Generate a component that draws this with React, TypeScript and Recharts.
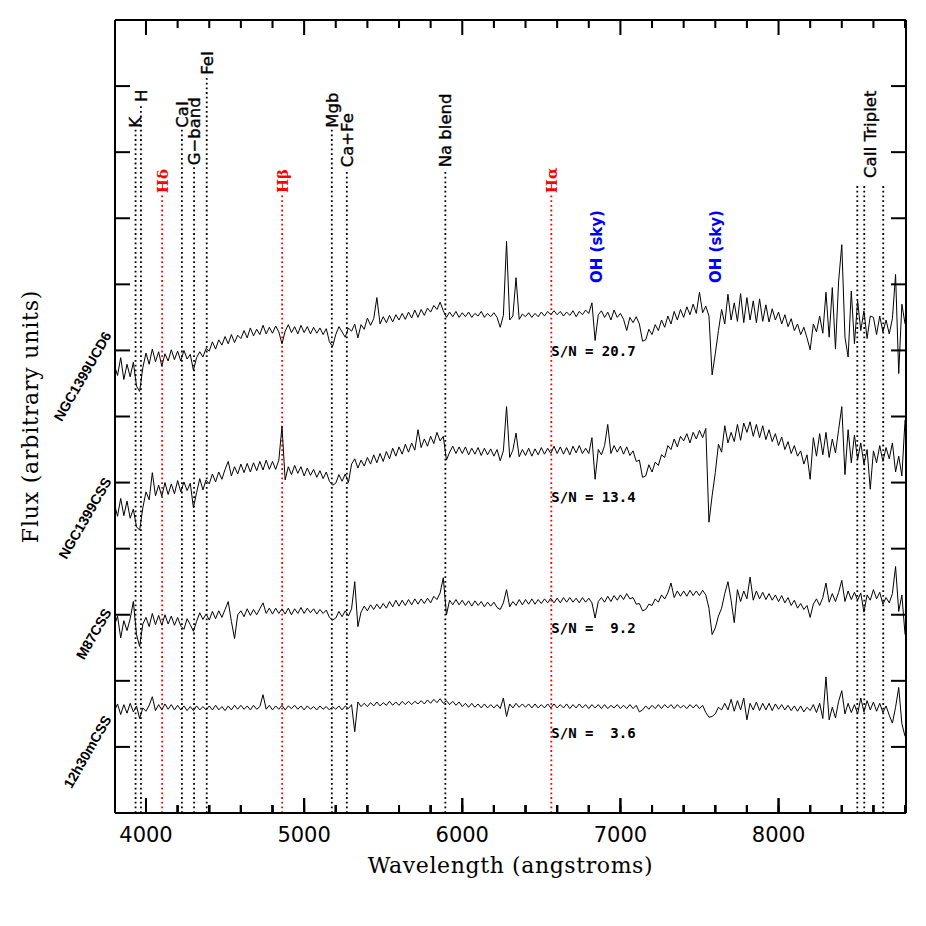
import { LineChart, Line, XAxis, YAxis, ReferenceLine, ReferenceDot, ReferenceArea } from "recharts";

// wavelength grid (angstroms), 20 A steps
const WAVE = [
  3800, 3820, 3840, 3860, 3880, 3900, 3920, 3940, 3960, 3980,
  4000, 4020, 4040, 4060, 4080, 4100, 4120, 4140, 4160, 4180,
  4200, 4220, 4240, 4260, 4280, 4300, 4320, 4340, 4360, 4380,
  4400, 4420, 4440, 4460, 4480, 4500, 4520, 4540, 4560, 4580,
  4600, 4620, 4640, 4660, 4680, 4700, 4720, 4740, 4760, 4780,
  4800, 4820, 4840, 4860, 4880, 4900, 4920, 4940, 4960, 4980,
  5000, 5020, 5040, 5060, 5080, 5100, 5120, 5140, 5160, 5180,
  5200, 5220, 5240, 5260, 5280, 5300, 5320, 5340, 5360, 5380,
  5400, 5420, 5440, 5460, 5480, 5500, 5520, 5540, 5560, 5580,
  5600, 5620, 5640, 5660, 5680, 5700, 5720, 5740, 5760, 5780,
  5800, 5820, 5840, 5860, 5880, 5900, 5920, 5940, 5960, 5980,
  6000, 6020, 6040, 6060, 6080, 6100, 6120, 6140, 6160, 6180,
  6200, 6220, 6240, 6260, 6280, 6300, 6320, 6340, 6360, 6380,
  6400, 6420, 6440, 6460, 6480, 6500, 6520, 6540, 6560, 6580,
  6600, 6620, 6640, 6660, 6680, 6700, 6720, 6740, 6760, 6780,
  6800, 6820, 6840, 6860, 6880, 6900, 6920, 6940, 6960, 6980,
  7000, 7020, 7040, 7060, 7080, 7100, 7120, 7140, 7160, 7180,
  7200, 7220, 7240, 7260, 7280, 7300, 7320, 7340, 7360, 7380,
  7400, 7420, 7440, 7460, 7480, 7500, 7520, 7540, 7560, 7580,
  7600, 7620, 7640, 7660, 7680, 7700, 7720, 7740, 7760, 7780,
  7800, 7820, 7840, 7860, 7880, 7900, 7920, 7940, 7960, 7980,
  8000, 8020, 8040, 8060, 8080, 8100, 8120, 8140, 8160, 8180,
  8200, 8220, 8240, 8260, 8280, 8300, 8320, 8340, 8360, 8380,
  8400, 8420, 8440, 8460, 8480, 8500, 8520, 8540, 8560, 8580,
  8600, 8620, 8640, 8660, 8680, 8700, 8720, 8740, 8760, 8780,
  8800,
];

// offset fluxes, arbitrary units
const UCD6 = [
  67.8, 66.2, 68.9, 65.6, 67.9, 66.0, 68.2, 64.6, 63.8, 67.4,
  69.6, 67.9, 70.2, 68.3, 69.8, 67.6, 69.5, 68.4, 70.1, 68.6,
  69.9, 68.4, 70.0, 68.7, 69.4, 67.0, 68.9, 69.8, 69.0, 70.3,
  69.9, 71.3, 70.2, 71.6, 70.8, 72.1, 71.0, 72.4, 71.2, 72.3,
  71.8, 73.0, 71.9, 73.4, 72.2, 73.2, 72.4, 73.8, 72.5, 73.5,
  72.6, 73.7, 72.8, 71.0, 72.9, 73.9, 72.7, 73.6, 72.5, 73.8,
  72.7, 73.6, 72.5, 73.5, 72.6, 73.4, 72.4, 73.3, 71.3, 70.6,
  72.4, 73.6, 72.8, 72.0, 73.4, 72.9, 74.0, 71.9, 73.9, 73.2,
  74.9, 73.8, 74.8, 78.0, 74.0, 75.1, 74.2, 75.3, 74.3, 75.4,
  74.6, 75.6, 74.7, 75.8, 74.9, 76.1, 75.0, 76.2, 75.3, 76.4,
  75.8, 76.8, 76.2, 77.3, 76.0, 75.0, 75.8, 75.1, 75.9, 75.0,
  75.7, 75.1, 75.8, 75.0, 75.6, 75.2, 75.9, 75.0, 75.6, 75.1,
  75.7, 75.0, 73.5, 75.3, 86.5, 74.6, 75.2, 81.0, 74.7, 75.5,
  75.1, 75.7, 75.0, 75.6, 75.1, 75.8, 75.2, 75.9, 75.4, 76.0,
  75.4, 75.9, 75.2, 75.8, 75.3, 76.0, 75.1, 75.9, 75.4, 76.1,
  75.6, 77.2, 71.5, 75.4, 76.0, 75.0, 75.8, 74.6, 76.1, 75.0,
  75.6, 74.7, 73.0, 75.0, 74.2, 75.1, 74.0, 71.4, 71.6, 73.2,
  72.4, 73.9, 73.0, 74.6, 73.5, 75.2, 74.0, 75.9, 74.6, 76.2,
  75.0, 76.6, 75.4, 77.0, 75.6, 78.8, 75.7, 76.7, 75.2, 66.3,
  69.5, 73.0, 76.2, 74.0, 78.5, 74.6, 77.2, 74.4, 78.6, 74.2,
  78.0, 74.6, 77.5, 74.2, 77.8, 74.4, 76.9, 74.3, 76.3, 74.6,
  75.8, 74.0, 75.4, 73.6, 74.8, 73.0, 74.0, 72.4, 73.5, 71.9,
  70.1, 74.0, 72.8, 75.2, 72.6, 78.8, 72.0, 79.5, 70.2, 80.5,
  86.0, 72.0, 69.0, 79.0, 71.0, 77.5, 73.0, 76.0, 71.8, 75.2,
  75.0, 72.4, 75.2, 72.8, 74.6, 72.5, 74.8, 81.5, 66.5, 77.0,
  74.0,
];

const NGC1399CSS = [
  46.8, 44.9, 47.6, 45.0, 47.2, 44.6, 46.0, 43.3, 42.8, 46.2,
  48.6, 47.4, 51.5, 48.0, 49.6, 47.9, 50.0, 48.2, 49.8, 48.3,
  50.3, 48.6, 50.1, 48.8, 49.9, 46.2, 48.5, 50.6, 48.9, 50.4,
  49.8, 51.3, 50.1, 51.6, 50.5, 52.0, 53.2, 51.0, 52.4, 51.3,
  52.8, 51.5, 52.9, 51.6, 53.0, 51.8, 53.2, 51.9, 53.4, 52.0,
  53.2, 52.0, 53.4, 58.5, 50.4, 52.4, 51.2, 52.6, 51.4, 52.4,
  51.0, 52.2, 51.1, 52.0, 50.8, 51.8, 50.6, 51.6, 50.2, 49.6,
  49.9, 51.2, 50.2, 51.3, 50.0, 52.8, 53.6, 52.2, 53.4, 52.5,
  53.8, 52.8, 54.2, 53.0, 54.4, 53.2, 54.7, 53.6, 55.2, 54.0,
  55.4, 54.3, 55.8, 54.6, 56.0, 54.9, 58.0, 55.3, 56.6, 55.5,
  57.0, 55.9, 57.6, 56.3, 57.0, 53.4, 54.6, 55.5, 54.4, 55.4,
  54.4, 55.4, 54.2, 55.2, 54.3, 55.3, 54.1, 55.2, 54.2, 55.1,
  54.0, 55.0, 53.3, 54.8, 61.5, 53.8, 54.9, 57.5, 53.9, 55.0,
  54.1, 55.2, 54.0, 55.1, 54.2, 55.3, 54.3, 55.2, 54.4, 55.5,
  54.4, 55.4, 54.3, 55.3, 54.2, 55.5, 54.5, 55.6, 54.4, 55.2,
  54.4, 56.8, 50.5, 55.0, 54.2, 55.6, 58.8, 54.4, 55.6, 54.6,
  55.5, 54.3, 55.4, 54.1, 54.8, 53.2, 53.4, 50.8, 51.0, 52.7,
  51.6, 53.1, 52.6, 54.2, 53.8, 55.6, 55.0, 56.6, 55.4, 57.0,
  56.3, 57.4, 56.0, 57.6, 56.6, 57.9, 56.8, 58.2, 44.0, 48.0,
  51.5, 55.8, 54.6, 58.6, 56.0, 57.6, 56.2, 58.8, 56.4, 59.0,
  57.6, 59.2, 57.0, 58.8, 56.8, 58.6, 56.5, 58.0, 56.2, 57.4,
  55.6, 56.9, 55.0, 56.2, 54.4, 55.6, 54.0, 54.8, 52.8, 54.2,
  50.5, 56.8, 54.0, 57.4, 54.2, 57.6, 53.8, 56.6, 54.5, 58.0,
  61.5, 51.2, 58.0, 53.0, 57.2, 53.5, 56.0, 52.8, 55.0, 49.0,
  54.8, 53.0, 55.6, 53.2, 55.3, 53.6, 56.0, 51.6, 54.0, 51.0,
  59.5,
];

const M87CSS = [
  28.3, 29.8, 26.5, 29.1, 27.6, 29.4, 32.0, 27.0, 25.2, 28.6,
  29.6, 28.2, 30.2, 28.5, 29.9, 28.4, 30.0, 28.6, 29.8, 28.4,
  29.6, 28.3, 27.8, 29.4, 28.5, 27.5, 29.0, 30.3, 29.3, 30.1,
  29.2, 30.5, 29.4, 30.6, 29.6, 30.8, 32.0, 29.0, 26.4, 30.0,
  30.6, 29.7, 30.9, 29.9, 30.8, 30.0, 30.9, 31.8, 30.2, 31.0,
  30.1, 31.0, 30.2, 30.9, 30.1, 31.0, 30.0, 30.9, 30.2, 31.1,
  30.2, 31.0, 30.3, 30.9, 30.1, 30.8, 30.2, 30.7, 29.6, 29.2,
  29.5, 30.5, 29.7, 30.6, 29.8, 30.9, 35.0, 28.2, 30.4, 31.3,
  30.6, 31.5, 30.8, 31.6, 30.9, 31.7, 31.0, 32.0, 31.2, 32.2,
  31.3, 32.2, 31.4, 32.3, 31.5, 32.4, 31.6, 32.4, 31.7, 32.5,
  31.8, 32.8, 32.3, 33.3, 35.6, 30.0, 32.2, 31.5, 32.3, 31.5,
  32.2, 31.4, 32.1, 31.3, 32.1, 31.4, 32.0, 31.2, 31.9, 31.3,
  31.9, 31.1, 30.8, 31.8, 33.8, 31.2, 32.0, 31.4, 32.3, 31.5,
  32.3, 31.6, 32.4, 31.6, 32.3, 31.7, 32.4, 31.8, 32.5, 31.8,
  32.5, 31.8, 32.6, 31.9, 32.6, 31.9, 32.5, 31.8, 32.6, 31.9,
  32.5, 31.8, 29.5, 32.0, 32.6, 31.9, 32.8, 32.0, 32.9, 32.2,
  33.0, 32.3, 33.2, 32.4, 32.6, 31.6, 31.7, 30.6, 30.8, 31.6,
  31.4, 32.4, 31.9, 33.0, 32.4, 33.3, 34.8, 32.6, 33.6, 32.8,
  33.6, 32.8, 33.7, 32.9, 33.6, 32.9, 33.7, 33.0, 31.0, 27.0,
  28.0, 29.8, 31.0, 33.2, 35.0, 32.2, 28.8, 33.8, 32.0, 33.6,
  32.4, 35.7, 32.2, 33.6, 32.4, 33.4, 32.3, 33.2, 32.2, 33.0,
  32.0, 32.9, 31.8, 32.6, 31.4, 32.2, 31.0, 31.7, 30.8, 31.4,
  29.6, 31.6, 32.4, 31.4, 32.6, 34.8, 31.9, 33.2, 32.0, 33.4,
  35.2, 32.0, 33.6, 32.3, 33.4, 32.2, 33.3, 30.4, 33.0, 32.2,
  33.8, 32.4, 33.4, 31.6, 32.6, 31.8, 33.2, 37.3, 30.5, 33.0,
  27.0,
];

const CSS12H30M = [
  15.4, 16.5, 14.9, 16.4, 15.1, 16.6, 15.3, 16.2, 14.3, 15.9,
  15.4, 16.3, 17.6, 15.5, 16.4, 15.6, 16.5, 15.7, 16.4, 15.6,
  16.3, 15.6, 16.2, 15.5, 16.1, 15.5, 16.2, 15.6, 16.1, 15.6,
  16.2, 15.6, 16.3, 15.6, 16.1, 15.5, 16.2, 15.6, 16.3, 15.7,
  16.3, 15.7, 16.2, 15.6, 16.3, 15.7, 16.1, 17.9, 15.7, 16.3,
  15.6, 16.2, 15.7, 16.3, 15.6, 16.2, 15.8, 16.3, 15.7, 16.2,
  15.6, 16.2, 15.7, 16.1, 15.6, 16.2, 15.7, 16.1, 15.6, 16.1,
  15.7, 16.2, 15.6, 16.2, 15.8, 16.4, 12.3, 16.8, 16.1, 16.6,
  16.1, 16.7, 16.2, 16.8, 16.2, 16.7, 16.3, 16.9, 16.3, 16.8,
  16.3, 16.9, 16.4, 16.9, 16.4, 16.9, 16.5, 17.0, 16.5, 17.1,
  16.6, 17.2, 16.7, 17.3, 16.6, 17.0, 16.4, 16.9, 16.3, 16.8,
  16.1, 16.6, 16.0, 16.6, 16.0, 16.5, 15.9, 16.5, 15.9, 16.4,
  15.9, 16.4, 15.8, 17.4, 14.6, 16.5, 15.9, 16.6, 16.0, 16.5,
  16.0, 16.5, 15.9, 16.5, 15.9, 16.4, 15.9, 16.5, 15.9, 16.5,
  15.9, 16.4, 15.9, 16.5, 15.8, 16.4, 15.9, 16.5, 15.9, 16.4,
  15.8, 16.4, 15.9, 16.4, 15.8, 16.4, 15.8, 16.3, 15.9, 16.4,
  15.8, 16.3, 15.8, 16.4, 15.8, 16.3, 15.3, 15.6, 16.2, 15.7,
  16.3, 15.8, 16.4, 15.8, 16.4, 15.9, 16.4, 15.8, 16.4, 15.9,
  16.3, 15.8, 16.4, 15.9, 16.4, 15.8, 16.3, 15.2, 14.5, 14.6,
  15.0, 16.0, 15.6, 16.6, 15.6, 17.2, 15.4, 17.0, 15.6, 17.4,
  14.1, 16.6, 15.6, 16.8, 15.5, 16.6, 15.6, 16.6, 15.5, 16.5,
  15.7, 16.4, 15.6, 16.3, 15.5, 16.2, 15.4, 16.2, 15.3, 16.0,
  15.5, 16.4, 15.2, 16.6, 14.3, 20.6, 14.1, 16.0, 14.4, 16.9,
  18.5, 15.0, 16.6, 15.2, 16.4, 15.0, 17.4, 15.3, 17.0, 15.6,
  16.8, 15.4, 16.6, 15.2, 16.2, 14.8, 13.6, 16.0, 19.0, 13.5,
  11.6,
];

const SPECTRUM_NAMES = ["NGC1399UCD6", "NGC1399CSS", "M87CSS", "12h30mCSS"];
const SN_TEXT = ["20.7", "13.4", " 9.2", " 3.6"];

const X_TICKS = [
  4000, 4200, 4400, 4600, 4800, 5000, 5200, 5400, 5600, 5800, 6000, 6200, 6400,
  6600, 6800, 7000, 7200, 7400, 7600, 7800, 8000, 8200, 8400, 8600, 8800,
];
const Y_TICKS = [0, 10, 20, 30, 40, 50, 60, 70, 80, 90, 100, 110, 120];

const ABS_NAMES = ["K", "H", "CaI", "G\u2212band", "FeI", "Mgb", "Ca+Fe", "Na blend"];
const ABS_WAVES = [3934, 3968, 4227, 4304, 4384, 5175, 5270, 5893];
const BALMER_NAMES = ["H\u03b4", "H\u03b2", "H\u03b1"];
const BALMER_WAVES = [4102, 4861, 6563];
const CAT_WAVES = [8498, 8542, 8662];
const SKY_WAVES = [6851, 7599];

// where the annotations sit, in flux units
const ABS_TOPS = [103.4, 107.3, 103.4, 97.7, 111.4, 103.4, 97.4, 97.4];
const BALMER_TOP = 93.5;
const CAT_TOP = 95.3;
const CAT_LABEL = { w: 8579, y: 95.8 };
const SKY_LEVEL = 79.9;
const SN_LEVELS = [69.2, 47.1, 27.2, 11.3];
const NAME_LEVELS = [72.3, 50.2, 30.4, 14.2];

const KEYS = ["ucd6", "n1399", "m87", "c1230"];
const data = WAVE.map((w, i) => ({
  w,
  ucd6: UCD6[i],
  n1399: NGC1399CSS[i],
  m87: M87CSS[i],
  c1230: CSS12H30M[i],
}));

const X_MIN = 3804;
const X_MAX = 8806;
const Y_MAX = 120;
// tick sizes in axis units (~15px / ~8px long, ~2px wide)
const MAJOR_LEN = 2.27;
const MINOR_LEN = 1.21;
const TICK_HALF = 6.5;
const RIGHT_TICK = 95;
const frame = { stroke: "#000", strokeWidth: 2 };
const SERIF = "DejaVu Serif";
const SANS = "DejaVu Sans";

const isMajor = (v: number) => v % 1000 === 0;
const tickLen = (v: number) => (isMajor(v) ? MAJOR_LEN : MINOR_LEN);

// vertical text sitting on top of a point
const upText = (text: string, color: string, font: string, size: number, weight: any = "normal", outline = 0) => (props: any) => {
  const vb = props.viewBox || {};
  const x = vb.x + (vb.width || 0) / 2 + size * 0.36;
  const y = Math.min(vb.y, vb.y + (vb.height || 0)) - 2;
  return (
    <text
      x={x}
      y={y}
      transform={`rotate(-90 ${x} ${y})`}
      fill={color}
      stroke={outline ? color : "none"}
      strokeWidth={outline}
      fontFamily={font}
      fontSize={size}
      fontWeight={weight}
      style={{ whiteSpace: "pre" }}
    >
      {text}
    </text>
  );
};

const snText = (text: string) => (props: any) => {
  const vb = props.viewBox || {};
  return (
    <text
      x={vb.x}
      y={vb.y}
      fill="#000"
      fontFamily="DejaVu Sans Mono"
      fontWeight="bold"
      fontSize={14}
      style={{ whiteSpace: "pre" }}
    >
      {`S/N = ${text}`}
    </text>
  );
};

const nameText = (text: string) => (props: any) => {
  const vb = props.viewBox || {};
  const x = vb.x - 3;
  const y = vb.y;
  return (
    <text
      x={x}
      y={y}
      transform={`rotate(-60 ${x} ${y})`}
      textAnchor="end"
      fill="#000"
      fontFamily="Liberation Sans"
      fontWeight="bold"
      fontSize={14}
    >
      {text}
    </text>
  );
};

const xTitle = (props: any) => {
  const vb = props.viewBox || {};
  return (
    <text
      x={vb.x + vb.width / 2}
      y={813 + 60}
      textAnchor="middle"
      fontFamily={SERIF}
      fontSize={22}
      letterSpacing={0.6}
      fill="#000"
    >
      Wavelength (angstroms)
    </text>
  );
};

const yTitle = () => {
  const x = 37.5;
  const y = 416.5;
  return (
    <text
      x={x}
      y={y}
      transform={`rotate(-90 ${x} ${y})`}
      textAnchor="middle"
      fontFamily={SERIF}
      fontSize={22}
      letterSpacing={0.8}
      fill="#000"
    >
      Flux (arbitrary units)
    </text>
  );
};

const dotted = { strokeDasharray: "1.8 2.9", strokeWidth: 1.8 };

export default function App() {
  return (
    <div style={{ position: "absolute", left: 0, top: 0, width: 926, height: 926, background: "#fff" }}>
      <LineChart width={926} height={926} data={data} margin={{ top: 20, right: 20, bottom: 112, left: 114 }}>
        <XAxis
          dataKey="w"
          type="number"
          domain={[X_MIN, X_MAX]}
          allowDataOverflow
          ticks={X_TICKS}
          interval={0}
          height={1}
          tickSize={-8}
          tickMargin={8}
          tickLine={{ stroke: "#000", strokeWidth: 2 }}
          axisLine={frame}
          tick={(p: any) => (
            <g>
              <line
                x1={p.x}
                x2={p.x}
                y1={p.y}
                y2={p.y - (isMajor(p.payload.value) ? 15 : 8)}
                stroke="#000"
                strokeWidth={2}
              />
              {isMajor(p.payload.value) && (
                <text x={p.x} y={p.y + 29} textAnchor="middle" fontFamily={SANS} fontSize={21} fill="#000">
                  {p.payload.value}
                </text>
              )}
            </g>
          )}
          label={xTitle}
        />
        <YAxis
          type="number"
          domain={[0, Y_MAX]}
          ticks={Y_TICKS}
          interval={0}
          width={1}
          tickSize={0}
          tickMargin={0}
          tickLine={false}
          axisLine={frame}
          tick={(p: any) => <line x1={p.x} x2={p.x + 15} y1={p.y} y2={p.y} stroke="#000" strokeWidth={2} />}
          label={yTitle}
        />

        {/* top and right sides of the frame, with inward ticks */}
        <ReferenceLine y={Y_MAX} stroke="#000" strokeWidth={2} ifOverflow="visible" />
        <ReferenceLine x={X_MAX} stroke="#000" strokeWidth={2} ifOverflow="visible" />
        {X_TICKS.map((v) => (
          <ReferenceArea
            key={`bt-${v}`}
            x1={v - TICK_HALF}
            x2={v + TICK_HALF}
            y1={0}
            y2={tickLen(v)}
            fill="#000"
            fillOpacity={1}
            stroke="none"
            ifOverflow="visible"
          />
        ))}
        {X_TICKS.map((v) => (
          <ReferenceArea
            key={`tt-${v}`}
            x1={v - TICK_HALF}
            x2={v + TICK_HALF}
            y1={Y_MAX - tickLen(v)}
            y2={Y_MAX}
            fill="#000"
            fillOpacity={1}
            stroke="none"
            ifOverflow="visible"
          />
        ))}
        {Y_TICKS.map((v) => (
          <ReferenceLine
            key={`rt-${v}`}
            segment={[{ x: X_MAX - RIGHT_TICK, y: v }, { x: X_MAX, y: v }]}
            stroke="#000"
            strokeWidth={2}
          />
        ))}

        {ABS_WAVES.map((w, i) => (
          <ReferenceLine
            key={`abs-${w}`}
            segment={[{ x: w, y: 0 }, { x: w, y: ABS_TOPS[i] }]}
            stroke="#000"
            {...dotted}
            label={upText(ABS_NAMES[i], "#000", SANS, 16.5, "normal", 0.35)}
          />
        ))}
        {BALMER_WAVES.map((w, i) => (
          <ReferenceLine
            key={`bal-${w}`}
            segment={[{ x: w, y: 0 }, { x: w, y: BALMER_TOP }]}
            stroke="#ff0000"
            {...dotted}
            label={upText(BALMER_NAMES[i], "#ff0000", SERIF, 15, "bold")}
          />
        ))}
        {CAT_WAVES.map((w) => (
          <ReferenceLine
            key={`cat-${w}`}
            segment={[{ x: w, y: 0 }, { x: w, y: CAT_TOP }]}
            stroke="#000"
            {...dotted}
          />
        ))}
        <ReferenceDot
          x={CAT_LABEL.w}
          y={CAT_LABEL.y}
          r={0}
          stroke="none"
          fill="none"
          label={upText("CaII Triplet", "#000", SANS, 16.5, "normal", 0.35)}
        />
        {SKY_WAVES.map((w) => (
          <ReferenceDot
            key={`sky-${w}`}
            x={w}
            y={SKY_LEVEL}
            r={0}
            stroke="none"
            fill="none"
            label={upText("OH (sky)", "#0000ff", SANS, 15, "bold")}
          />
        ))}

        {KEYS.map((k) => (
          <Line
            key={k}
            dataKey={k}
            dot={false}
            activeDot={false}
            stroke="#000"
            strokeWidth={1}
            isAnimationActive={false}
          />
        ))}

        {SN_TEXT.map((t, i) => (
          <ReferenceDot
            key={`sn-${i}`}
            x={BALMER_WAVES[2]}
            y={SN_LEVELS[i]}
            r={0}
            stroke="none"
            fill="none"
            label={snText(t)}
          />
        ))}
        {SPECTRUM_NAMES.map((n, i) => (
          <ReferenceDot
            key={`name-${n}`}
            x={X_MIN}
            y={NAME_LEVELS[i]}
            r={0}
            stroke="none"
            fill="none"
            ifOverflow="visible"
            label={nameText(n)}
          />
        ))}
      </LineChart>
    </div>
  );
}
